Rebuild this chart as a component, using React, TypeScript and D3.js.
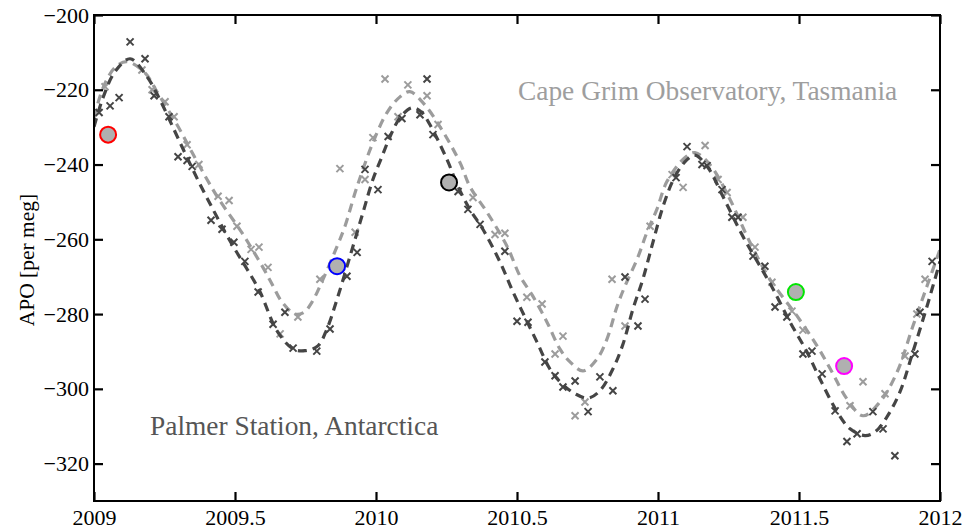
import React, { useEffect, useRef } from "react";
import * as d3 from "d3";

const palmerObs: [number, number][] = [
  [2009.018, -226.1], [2009.057, -224.3], [2009.089, -222.1], [2009.128, -207.2], [2009.181, -211.7],
  [2009.213, -221.6], [2009.266, -227.2], [2009.298, -237.9], [2009.33, -238.9], [2009.348, -240.5],
  [2009.415, -254.9], [2009.454, -257.3], [2009.496, -260.8], [2009.535, -265.9], [2009.582, -274.1],
  [2009.635, -282.7], [2009.677, -279.5], [2009.706, -289.1], [2009.79, -289.9], [2009.837, -284],
  [2009.897, -269.9], [2009.933, -263.5], [2009.961, -241.3], [2010.007, -246.7], [2010.043, -232.5],
  [2010.092, -227.7], [2010.156, -226.7], [2010.181, -217.1], [2010.202, -232], [2010.291, -247.2],
  [2010.326, -252], [2010.369, -256], [2010.457, -263.2], [2010.5, -281.9], [2010.539, -282.2],
  [2010.599, -292.8], [2010.635, -296.5], [2010.663, -299.5], [2010.706, -297.9], [2010.752, -306.1],
  [2010.794, -296.8], [2010.84, -300.5], [2010.883, -270.1], [2010.929, -283.2], [2010.954, -276],
  [2011.064, -243.5], [2011.103, -235.2], [2011.156, -240], [2011.174, -240.3], [2011.227, -246.7],
  [2011.262, -254.1], [2011.284, -254.1], [2011.337, -264.5], [2011.379, -267.2], [2011.415, -278.1],
  [2011.457, -280.8], [2011.514, -290.7], [2011.546, -289.9], [2011.582, -296], [2011.628, -305.9],
  [2011.67, -314.1], [2011.706, -312], [2011.762, -306.1], [2011.798, -310.7], [2011.84, -317.9],
  [2011.911, -290.7], [2011.929, -279.5], [2011.972, -265.9],
];

const capeGrimObs: [number, number][] = [
  [2009.039, -219.2], [2009.17, -214.7], [2009.206, -220], [2009.252, -223.2], [2009.284, -227.2],
  [2009.33, -234.7], [2009.372, -240], [2009.44, -248.5], [2009.479, -249.6], [2009.507, -256.5],
  [2009.557, -262.7], [2009.585, -262.1], [2009.617, -267.5], [2009.66, -285.3], [2009.723, -280.8],
  [2009.801, -270.7], [2009.872, -241.1], [2009.926, -258.1], [2009.961, -244], [2009.989, -232.8],
  [2010.032, -217.1], [2010.078, -227.2], [2010.113, -218.7], [2010.181, -221.6], [2010.22, -229.3],
  [2010.344, -248.8], [2010.422, -258.7], [2010.457, -258.4], [2010.535, -275.5], [2010.589, -277.3],
  [2010.635, -290.7], [2010.663, -285.9], [2010.706, -307.2], [2010.741, -303.5], [2010.837, -270.7],
  [2010.883, -283.2], [2010.972, -256.5], [2011.05, -242.7], [2011.089, -246.1], [2011.167, -234.9],
  [2011.213, -244], [2011.245, -247.5], [2011.301, -254.1], [2011.344, -262.1], [2011.404, -271.5],
  [2011.475, -279.2], [2011.514, -284.3], [2011.681, -304.5], [2011.727, -298.1], [2011.805, -301.3],
  [2011.876, -291.2], [2011.918, -280], [2011.947, -270.7],
];

// fitted seasonal curves, read point by point
const palmerFit: [number, number][] = [
  [2009.0, -229.9], [2009.032, -222.1], [2009.074, -215.2], [2009.128, -211.7], [2009.188, -216.5],
  [2009.234, -222.7], [2009.284, -230.7], [2009.33, -238.1], [2009.376, -245.3], [2009.422, -252],
  [2009.465, -258.1], [2009.504, -263.2], [2009.543, -268], [2009.589, -274.1], [2009.649, -284.5],
  [2009.706, -289.3], [2009.748, -289.8], [2009.794, -288.5], [2009.826, -284], [2009.862, -276],
  [2009.908, -264.5], [2009.954, -252.8], [2009.989, -244], [2010.021, -237.9], [2010.05, -232.5],
  [2010.085, -227.5], [2010.128, -224.8], [2010.163, -226.1], [2010.191, -229.3], [2010.252, -238.7],
  [2010.291, -245.9], [2010.333, -252], [2010.379, -257.3], [2010.44, -266.1], [2010.486, -274.1],
  [2010.528, -280.8], [2010.571, -287.5], [2010.617, -294.7], [2010.66, -298.7], [2010.706, -301.3],
  [2010.752, -302.5], [2010.794, -300.5], [2010.84, -294.7], [2010.876, -288], [2010.911, -278.7],
  [2010.947, -270.5], [2010.982, -260.8], [2011.018, -251.2], [2011.06, -243.2], [2011.103, -238.7],
  [2011.131, -237.5], [2011.177, -240.8], [2011.23, -248.5], [2011.301, -259.2], [2011.362, -267.2],
  [2011.408, -273.3], [2011.468, -282.1], [2011.528, -290.1], [2011.574, -297.3], [2011.635, -306.1],
  [2011.681, -310.7], [2011.734, -312.5], [2011.77, -311.5], [2011.812, -307.5], [2011.858, -300.8],
  [2011.904, -290.1], [2011.954, -277.9], [2012.0, -265.9],
];

const capeGrimFit: [number, number][] = [
  [2009.0, -227.5], [2009.032, -219.5], [2009.074, -214.1], [2009.117, -212.5], [2009.181, -215.5],
  [2009.223, -220.5], [2009.294, -229.3], [2009.348, -236.8], [2009.401, -244], [2009.443, -249.3],
  [2009.525, -258.3], [2009.599, -267.5], [2009.635, -272.5], [2009.667, -276.8], [2009.713, -280],
  [2009.745, -279.5], [2009.773, -276.8], [2009.812, -270.7], [2009.862, -261.9], [2009.89, -256.5],
  [2009.926, -247.5], [2009.95, -242.1], [2009.986, -234.7], [2010.039, -226.1], [2010.085, -221.9],
  [2010.12, -220.5], [2010.167, -223.5], [2010.227, -229.9], [2010.298, -239.5], [2010.333, -245.9],
  [2010.394, -252.8], [2010.465, -261.9], [2010.511, -269.9], [2010.553, -274.8], [2010.606, -282.1],
  [2010.652, -289.3], [2010.688, -292.8], [2010.734, -295.2], [2010.784, -292], [2010.819, -286.7],
  [2010.855, -277.9], [2010.883, -272.5], [2010.926, -265.3], [2010.961, -258.1], [2010.996, -252],
  [2011.032, -244.5], [2011.096, -238.1], [2011.131, -236.8], [2011.184, -240], [2011.255, -249.3],
  [2011.326, -260.8], [2011.397, -270.7], [2011.493, -280.5], [2011.564, -288.5], [2011.617, -295.5],
  [2011.67, -302.7], [2011.727, -307.2], [2011.787, -303.5], [2011.848, -295.5], [2011.904, -283.2],
  [2011.954, -272.5], [2012.0, -262.7],
];

// individual highlighted samples
const sampleYears = [2009.05, 2009.862, 2010.259, 2011.489, 2011.66];
const sampleApo = [-232, -267.2, -244.8, -274.1, -293.9];
const sampleColors = ["#ff0000", "#0000ff", "#000000", "#00e600", "#ff00ff"];

const xTicks = [2009, 2009.5, 2010, 2010.5, 2011, 2011.5, 2012];
const yTicks = [-320, -300, -280, -260, -240, -220, -200];

const darkColor = "#454545";
const lightColor = "#9c9c9c";

export default function App() {
  const ref = useRef<SVGSVGElement>(null);
  const width = 969;
  const height = 532;
  const margin = { top: 15, right: 29, bottom: 31, left: 94 };

  useEffect(() => {
    const svg = d3.select(ref.current);
    svg.selectAll("*").remove();

    const x = d3.scaleLinear().domain([2009, 2012]).range([margin.left, width - margin.right]);
    const y = d3.scaleLinear().domain([-330, -200]).range([height - margin.bottom, margin.top]);
    const font = "'Liberation Serif', 'Times New Roman', serif";

    svg.append("defs").append("clipPath").attr("id", "plot-clip")
      .append("rect")
      .attr("x", margin.left).attr("y", margin.top)
      .attr("width", width - margin.left - margin.right)
      .attr("height", height - margin.top - margin.bottom);

    const plot = svg.append("g").attr("clip-path", "url(#plot-clip)");

    const line = d3.line<[number, number]>()
      .x(d => x(d[0]))
      .y(d => y(d[1]))
      .curve(d3.curveCatmullRom);

    const cross = "M-3.5,-3.5L3.5,3.5M3.5,-3.5L-3.5,3.5";

    const drawSeries = (fit: [number, number][], obs: [number, number][], color: string) => {
      plot.append("path")
        .attr("d", line(fit))
        .attr("fill", "none")
        .attr("stroke", color)
        .attr("stroke-width", 3.2)
        .attr("stroke-dasharray", "9,6");
      plot.append("g")
        .selectAll("path")
        .data(obs)
        .enter()
        .append("path")
        .attr("d", cross)
        .attr("transform", d => `translate(${x(d[0])},${y(d[1])})`)
        .attr("stroke", color)
        .attr("stroke-width", 2);
    };

    drawSeries(capeGrimFit, capeGrimObs, lightColor);
    drawSeries(palmerFit, palmerObs, darkColor);

    plot.append("g")
      .selectAll("circle")
      .data(sampleYears)
      .enter()
      .append("circle")
      .attr("cx", d => x(d))
      .attr("cy", (d, i) => y(sampleApo[i]))
      .attr("r", 8)
      .attr("fill", "#b0b0b0")
      .attr("stroke", (d, i) => sampleColors[i])
      .attr("stroke-width", 2);

    // axes with inward ticks on all four sides
    const styleAxis = (g: d3.Selection<SVGGElement, unknown, null, undefined>) => {
      g.select(".domain").remove();
      g.selectAll(".tick line").attr("stroke", "#000").attr("stroke-width", 2.2);
      g.selectAll(".tick text")
        .attr("fill", "#000")
        .style("font-family", font)
        .style("font-size", "22px");
    };

    svg.append("g")
      .attr("transform", `translate(0,${height - margin.bottom})`)
      .call(d3.axisBottom(x).tickValues(xTicks).tickSizeInner(-9).tickSizeOuter(0).tickPadding(8)
        .tickFormat(d => String(d)))
      .call(styleAxis);
    svg.append("g")
      .attr("transform", `translate(0,${margin.top})`)
      .call(d3.axisTop(x).tickValues(xTicks).tickSizeInner(-9).tickSizeOuter(0).tickFormat(() => ""))
      .call(styleAxis);
    svg.append("g")
      .attr("transform", `translate(${margin.left},0)`)
      .call(d3.axisLeft(y).tickValues(yTicks).tickSizeInner(-9).tickSizeOuter(0).tickPadding(5)
        .tickFormat(d => d3.format("")(d as number).replace("-", "\u2013")))
      .call(styleAxis);
    svg.append("g")
      .attr("transform", `translate(${width - margin.right},0)`)
      .call(d3.axisRight(y).tickValues(yTicks).tickSizeInner(-9).tickSizeOuter(0).tickFormat(() => ""))
      .call(styleAxis);

    svg.append("rect")
      .attr("x", margin.left).attr("y", margin.top)
      .attr("width", width - margin.left - margin.right)
      .attr("height", height - margin.top - margin.bottom)
      .attr("fill", "none")
      .attr("stroke", "#000")
      .attr("stroke-width", 2);

    svg.append("text")
      .attr("transform", `translate(34,${(margin.top + height - margin.bottom) / 2 + 2}) rotate(-90)`)
      .attr("text-anchor", "middle")
      .style("font-family", font)
      .style("font-size", "21.5px")
      .text("APO [per meg]");

    svg.append("text")
      .attr("x", 518).attr("y", 100)
      .attr("fill", "#9e9e9e")
      .style("font-family", font)
      .style("font-size", "27.4px")
      .text("Cape Grim Observatory, Tasmania");

    svg.append("text")
      .attr("x", 150).attr("y", 435)
      .attr("fill", "#555")
      .style("font-family", font)
      .style("font-size", "27.4px")
      .text("Palmer Station, Antarctica");
  });

  return (
    <svg
      ref={ref}
      width={width}
      height={height}
      style={{ position: "absolute", left: 0, top: 0, background: "#fff" }}
    />
  );
}
